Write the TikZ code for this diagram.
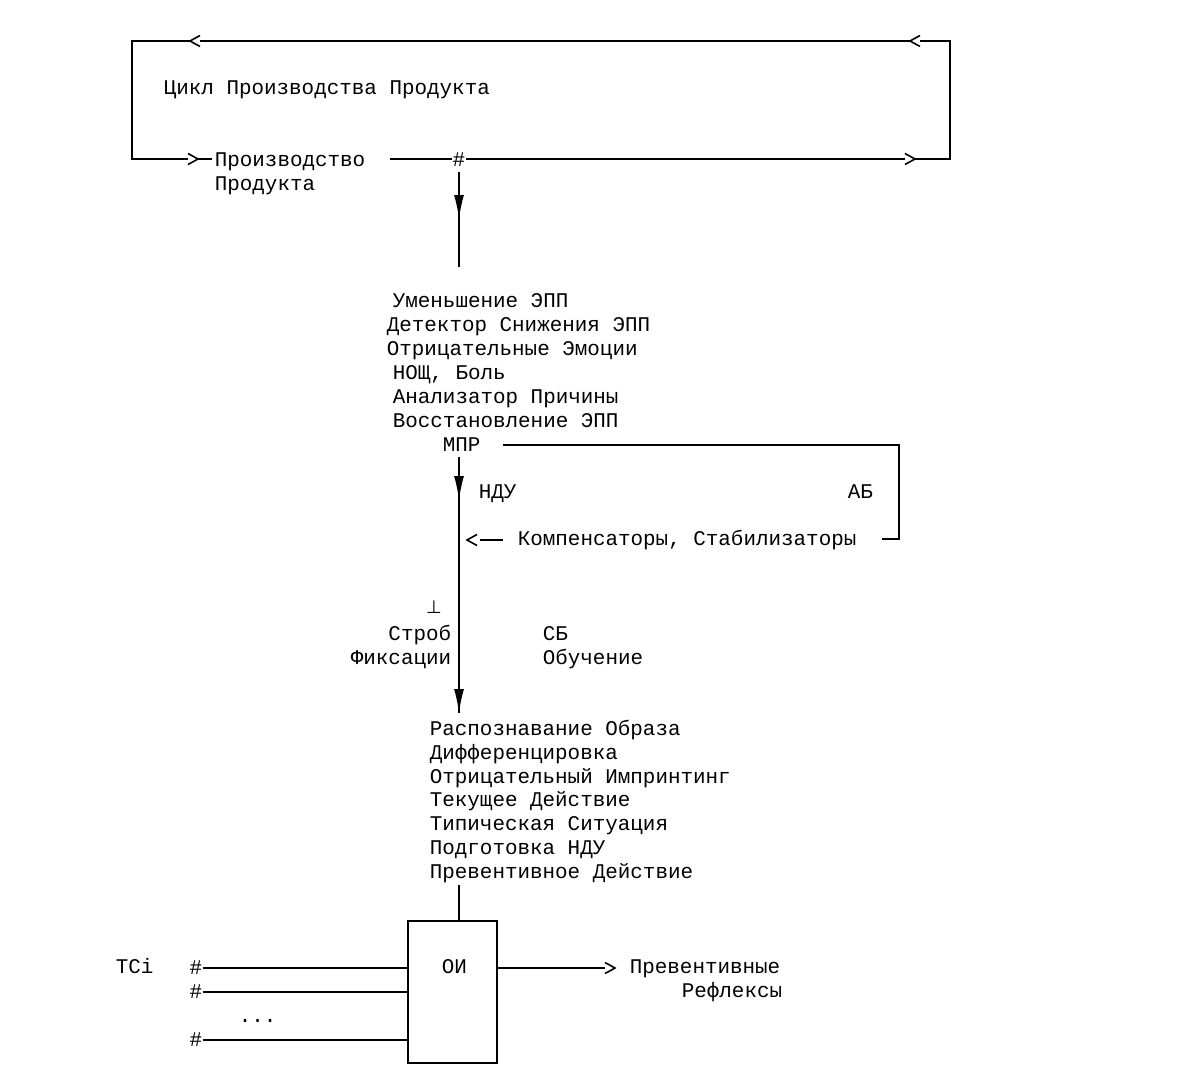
\documentclass[tikz,border=0pt]{standalone}
\usepackage{fontspec}
\setmainfont{Liberation Mono}
\newfontfamily\symfont{DejaVu Sans}
\usetikzlibrary{arrows.meta}
\begin{document}
\begin{tikzpicture}[x=1pt,y=-1pt,line width=1.6pt,
  txt/.style={inner sep=0pt,anchor=base west,font=\fontsize{20.9}{24}\selectfont},
  txtr/.style={txt,anchor=base east},
  hash/.style={inner sep=0pt,anchor=center,font=\fontsize{20.9}{24}\selectfont},
  downarr/.style={-{Latex[length=24pt,width=10pt]}},
  lchev/.pic={\draw (10,-5.5) -- (0,0) -- (10,5.5);},
  rchev/.pic={\draw (-10,-5.5) -- (0,0) -- (-10,5.5);}]
\useasboundingbox (0,0) rectangle (1200,1082);
\fill[white] (0,0) rectangle (1200,1082);

% ---------- top loop ----------
\coordinate (tl) at (132,41);
\coordinate (tr) at (950,41);
\coordinate (bl) at (132,159);
\coordinate (br) at (950,159);
\node[txt] (cycle) at (163,94) {Цикл Производства Продукта};
\node[txt] (prod1) at (214,166) {Производство};
\node[txt] (prod2) at (214,190) {Продукта};
\node[hash] (h1) at (459,160) {\#};

\draw (915,159) -- (br) -- (tr) -- (920,41);
\pic at (910,41) {lchev};
\draw (910,41) -- (200,41);
\pic at (190,41) {lchev};
\draw (190,41) -- (tl) -- (bl) -- (188,159);
\pic at (198,159) {rchev};
\coordinate (pin) at (212,159);
\draw (198,159) -- (pin);
\coordinate (pout) at (390,159);
\draw (pout) -- (h1.west |- pout);
\coordinate (rarm) at (905,159);
\draw (h1.east |- rarm) -- (rarm);
\pic at (915,159) {rchev};

% ---------- first vertical ----------
\coordinate (a1) at (459,219);
\coordinate (v1) at (459,267);
\draw[shorten <=4pt] (h1.south) -- (v1);
\draw[downarr] (459,190) -- (a1);

% ---------- middle block ----------
\node[txt] (m1) at (392,307) {Уменьшение ЭПП};
\node[txt] (m2) at (386,331) {Детектор Снижения ЭПП};
\node[txt] (m3) at (386,355) {Отрицательные Эмоции};
\node[txt] (m4) at (392,379) {НОЩ, Боль};
\node[txt] (m5) at (392,403) {Анализатор Причины};
\node[txt] (m6) at (392,427) {Восстановление ЭПП};
\node[txt] (mpr) at (442,451) {МПР};

\coordinate (fb1) at (503,445);
\coordinate (fb2) at (899,445);
\coordinate (fb3) at (899,539);
\coordinate (fb4) at (882,539);
\draw (fb1) -- (fb2) -- (fb3) -- (fb4);

\node[txt] (ndu) at (478,498) {НДУ};
\node[txt] (ab) at (847,498) {АБ};
\node[txt] (comp) at (517,545) {Компенсаторы, Стабилизаторы};
\pic at (467,540) {lchev};
\coordinate (cd1) at (480,540);
\coordinate (cd2) at (503,540);
\draw (cd1) -- (cd2);

% ---------- second vertical ----------
\coordinate (v2) at (459,457);
\coordinate (a2) at (459,500);
\coordinate (a3) at (459,713);
\draw (v2) -- (a3);
\draw[downarr] (459,470) -- (a2);
\draw[downarr] (459,680) -- (a3);

\node[inner sep=0pt,anchor=base,font=\symfont\fontsize{18}{20}\selectfont] (perp) at (434,613) {⊥};
\node[txtr] (strob) at (452,640) {Строб};
\node[txtr] (fix) at (452,664) {Фиксации};
\node[txt] (sb) at (542,640) {СБ};
\node[txt] (learn) at (542,664) {Обучение};

% ---------- lower block ----------
\node[txt] (r1) at (429,735) {Распознавание Образа};
\node[txt] (r2) at (429,759) {Дифференцировка};
\node[txt] (r3) at (429,783) {Отрицательный Импринтинг};
\node[txt] (r4) at (429,806) {Текущее Действие};
\node[txt] (r5) at (429,830) {Типическая Ситуация};
\node[txt] (r6) at (429,854) {Подготовка НДУ};
\node[txt] (r7) at (429,878) {Превентивное Действие};

% ---------- box ----------
\node[draw,minimum width=89pt,minimum height=142pt,inner sep=0pt] (box) at (452.5,992) {};
\node[txt] (oi) at (441,973) {ОИ};
\coordinate (v3) at (459,885);
\draw (v3) -- (v3 |- box.north);

\node[txt] (tci) at (115,973) {TCi};
\node[hash] (hA) at (196,968) {\#};
\node[hash] (hB) at (196,992) {\#};
\node[hash] (hC) at (196,1040) {\#};
\node[txt] (dots) at (238,1022) {...};
\draw (hA.east) -- (hA.east -| box.west);
\draw (hB.east) -- (hB.east -| box.west);
\draw (hC.east) -- (hC.east -| box.west);

\coordinate (oend) at (605,968);
\draw (box.east |- oend) -- (oend);
\pic at (615,968) {rchev};
\node[txt] (prev1) at (629,973) {Превентивные};
\node[txt] (prev2) at (681,997) {Рефлексы};
\end{tikzpicture}
\end{document}
